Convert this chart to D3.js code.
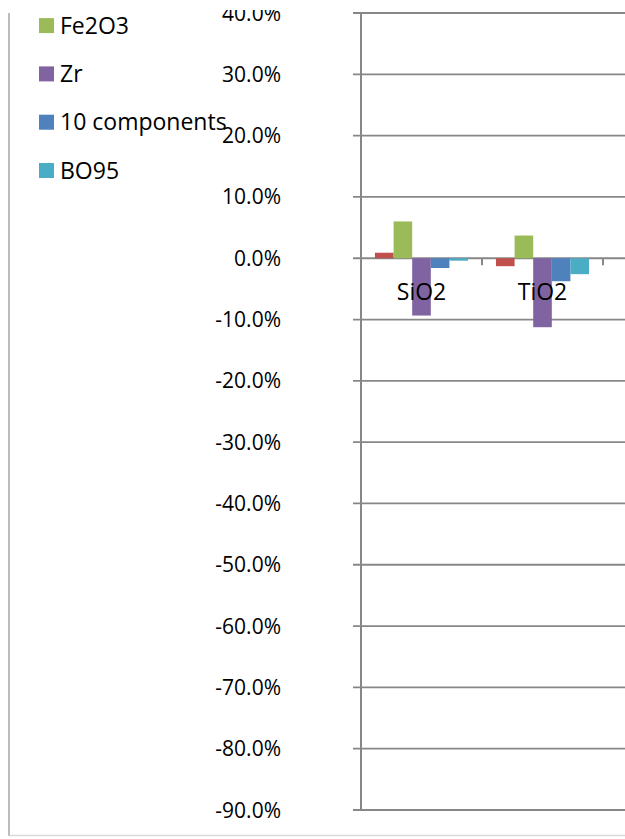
<!DOCTYPE html>
<html lang="en">
<head>
	<meta charset="utf-8">
	<title>Bar chart</title>
	<style>
		body { margin: 0; background: #fff; }
		text { font-family: "Open Sans", sans-serif; fill: #000; }
		.grid line { stroke: #878787; stroke-width: 1.8px; }
	</style>
</head>
<body>
	<div id="chart"></div>
	<script src="https://cdn.jsdelivr.net/npm/d3@7"></script>
	<script>
		var width = 625,
			height = 839;

		// the data
		var categories = ["SiO2", "TiO2"];
		var seriesNames = ["", "Fe2O3", "Zr", "10 components", "BO95"];
		var seriesColors = ["#C0504D", "#9BBB59", "#8064A2", "#4F81BD", "#4BACC6"];
		var valuesSiO2 = [0.009, 0.060, -0.0935, -0.016, -0.004];
		var valuesTiO2 = [-0.013, 0.037, -0.1125, -0.0375, -0.026];
		var yTicks = [0.4, 0.3, 0.2, 0.1, 0, -0.1, -0.2, -0.3, -0.4, -0.5, -0.6, -0.7, -0.8, -0.9];

		var values = [valuesSiO2, valuesTiO2];

		var svg = d3.select("#chart")
			.append("svg")
			.attr("width", width)
			.attr("height", height);

		svg.append("clipPath")
			.attr("id", "crop")
			.append("rect")
			.attr("x", 0).attr("y", 10)
			.attr("width", width).attr("height", height - 10);

		var g = svg.append("g").attr("clip-path", "url(#crop)");

		var y = d3.scaleLinear()
			.domain([-0.9, 0.4])
			.range([810, 13]);

		var x = d3.scaleBand()
			.domain(categories)
			.range([361, 603]);

		var xs = d3.scaleBand()
			.domain(d3.range(seriesNames.length))
			.range([0, x.bandwidth()])
			.paddingInner(0)
			.paddingOuter(0.75);

		var pct = function (d) { return d3.format(".1%")(d).replace("\u2212", "-"); };

		// frame
		g.append("line")
			.attr("x1", 9).attr("x2", 9)
			.attr("y1", 13).attr("y2", 836)
			.attr("stroke", "#a6a6a6").attr("stroke-width", 1.5);
		g.append("line")
			.attr("x1", 9).attr("x2", width)
			.attr("y1", 835.5).attr("y2", 835.5)
			.attr("stroke", "#d9d9d9").attr("stroke-width", 1.5);

		// gridlines + y ticks
		var grid = g.append("g").attr("class", "grid");
		grid.selectAll("line")
			.data(yTicks)
			.enter().append("line")
			.attr("x1", 353)
			.attr("x2", width)
			.attr("y1", function (d) { return y(d); })
			.attr("y2", function (d) { return y(d); })
			.attr("stroke", function (d) { return d === 0.4 ? "#c8c8c8" : "#878787"; });

		g.selectAll(".ylabel")
			.data(yTicks)
			.enter().append("text")
			.attr("class", "ylabel")
			.attr("x", 281)
			.attr("y", function (d) { return y(d); })
			.attr("dy", "0.36em")
			.attr("text-anchor", "end")
			.style("font-size", "21px")
			.text(pct);

		// bars
		var groups = g.selectAll(".cat")
			.data(categories)
			.enter().append("g")
			.attr("class", "cat")
			.attr("transform", function (d) { return "translate(" + x(d) + ",0)"; });

		groups.selectAll("rect")
			.data(function (d, i) { return values[i]; })
			.enter().append("rect")
			.attr("x", function (d, i) { return xs(i); })
			.attr("width", xs.bandwidth())
			.attr("y", function (d) { return y(Math.max(0, d)); })
			.attr("height", function (d) { return Math.abs(y(d) - y(0)); })
			.attr("fill", function (d, i) { return seriesColors[i]; });

		// y axis line
		g.append("line")
			.attr("x1", 361).attr("x2", 361)
			.attr("y1", y(0.4)).attr("y2", y(-0.9))
			.attr("stroke", "#878787").attr("stroke-width", 2);

		// x axis (at 0) with category ticks
		g.selectAll(".xtick")
			.data(categories)
			.enter().append("line")
			.attr("class", "xtick")
			.attr("x1", function (d) { return x(d) + x.bandwidth(); })
			.attr("x2", function (d) { return x(d) + x.bandwidth(); })
			.attr("y1", y(0)).attr("y2", y(0) + 7)
			.attr("stroke", "#878787").attr("stroke-width", 2);

		g.selectAll(".xlabel")
			.data(categories)
			.enter().append("text")
			.attr("class", "xlabel")
			.attr("x", function (d) { return x(d) + x.bandwidth() / 2; })
			.attr("y", 292)
			.attr("dy", "0.36em")
			.attr("text-anchor", "middle")
			.style("font-size", "23px")
			.text(function (d) { return d; });

		// legend (first entry sits above the cropped top)
		var legend = g.selectAll(".legend")
			.data(seriesNames)
			.enter().append("g")
			.attr("class", "legend")
			.attr("transform", function (d, i) { return "translate(39," + (25.6 + (i - 1) * 48.3) + ")"; });

		legend.append("rect")
			.attr("x", 0).attr("y", -7.5)
			.attr("width", 15).attr("height", 15)
			.attr("fill", function (d, i) { return seriesColors[i]; });

		legend.append("text")
			.attr("x", 21)
			.attr("dy", "0.36em")
			.style("font-size", "23px")
			.text(function (d) { return d; });
	</script>
</body>
</html>
